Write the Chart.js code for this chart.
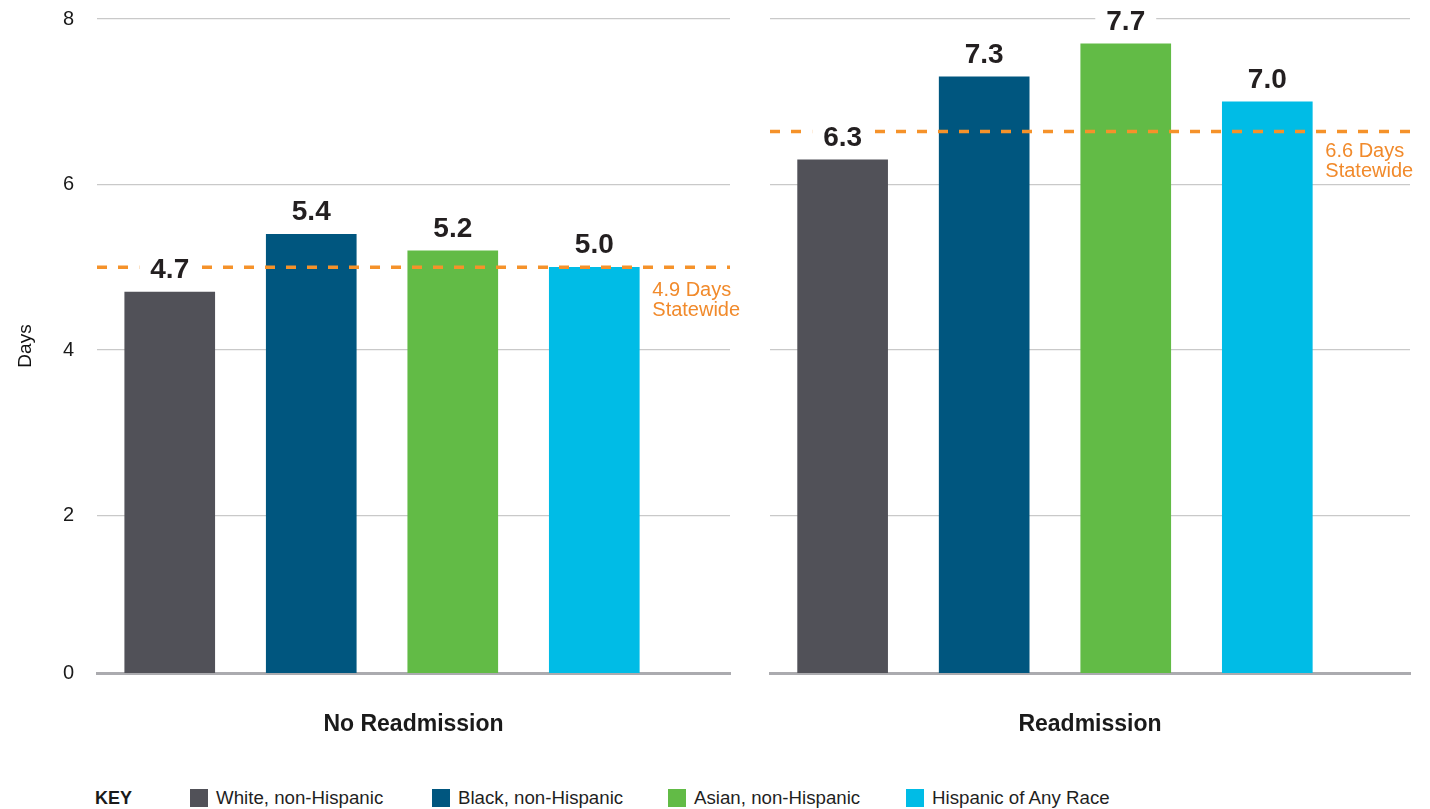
<!DOCTYPE html>
<html>
<head>
<meta charset="utf-8">
<script src="https://cdn.jsdelivr.net/npm/chart.js@4"></script>
<style>
  html, body { margin:0; padding:0; background:#fff; }
  body { width:1430px; height:809px; position:relative; overflow:hidden; font-family:'Liberation Sans', Arial, sans-serif; }
  #wrapA { position:absolute; left:0; top:0; width:750px; height:760px; }
  #wrapB { position:absolute; left:750px; top:0; width:680px; height:760px; }
  #legend { position:absolute; left:0; top:786px; width:1430px; height:24px; }
  .key { position:absolute; left:95px; top:2px; font-weight:bold; font-size:18px; color:#1a1a1a; line-height:20px; }
  .item { position:absolute; top:0; height:22px; }
  .box { position:absolute; left:0; top:3px; width:18px; height:18px; }
  .lab { position:absolute; left:26px; top:2px; white-space:nowrap; font-size:18.7px; line-height:20px; color:#1f1f1f; }
</style>
</head>
<body>
<div id="wrapA"><canvas id="chartA"></canvas></div>
<div id="wrapB"><canvas id="chartB"></canvas></div>
<div id="legend"></div>
<script>
// ---- data ----
const races = ['White, non-Hispanic', 'Black, non-Hispanic', 'Asian, non-Hispanic', 'Hispanic of Any Race'];
const raceColors = ['#515158', '#00567F', '#62BB46', '#00BCE6'];
const groups = ['No Readmission', 'Readmission'];
const noReadmission = [4.7, 5.4, 5.2, 5.0];
const readmission = [6.3, 7.3, 7.7, 7.0];
const statewideDays = [4.9, 6.6];      // label values
const statewideLevel = [5.0, 6.64];    // level of the dashed line as drawn
const yTicks = [0, 2, 4, 6, 8];
const yMin = 0.1, yMax = 8;

Chart.defaults.font.family = "'Liberation Sans', Arial, sans-serif";
Chart.defaults.color = '#1a1a1a';

const overlay = {
  id: 'overlay',
  afterDatasetsDraw(chart, args, opts) {
    const ctx = chart.ctx;
    const area = chart.chartArea;
    const y = chart.scales.y;
    const meta = chart.getDatasetMeta(0);
    ctx.save();
    // statewide dashed line
    const ly = y.getPixelForValue(opts.level);
    ctx.strokeStyle = '#F5922A';
    ctx.lineWidth = 3.5;
    ctx.setLineDash([10, 11]);
    ctx.beginPath();
    ctx.moveTo(area.left, ly);
    ctx.lineTo(area.right, ly);
    ctx.stroke();
    ctx.setLineDash([]);
    // value labels with white knock-out
    ctx.font = "bold 28px 'Liberation Sans', Arial, sans-serif";
    ctx.textAlign = 'center';
    ctx.textBaseline = 'alphabetic';
    meta.data.forEach((bar, i) => {
      const txt = chart.data.datasets[0].data[i].y.toFixed(1);
      const w = ctx.measureText(txt).width;
      const base = bar.y - 14;
      ctx.fillStyle = '#ffffff';
      ctx.fillRect(bar.x - w / 2 - 11, base - 27, w + 22, 34);
      ctx.fillStyle = '#231f20';
      ctx.fillText(txt, bar.x, base);
    });
    // statewide text
    const last = meta.data[meta.data.length - 1];
    const tx = last.x + last.width / 2 + 13;
    ctx.fillStyle = '#F18A2B';
    ctx.font = "20px 'Liberation Sans', Arial, sans-serif";
    ctx.textAlign = 'left';
    ctx.textBaseline = 'middle';
    ctx.fillText(opts.days.toFixed(1) + ' Days', tx, ly + opts.dy);
    ctx.fillText('Statewide', tx, ly + opts.dy + 20);
    ctx.restore();
  }
};

function makeChart(id, values, title, level, days, dy, showY, xMin, xMax, padLeft) {
  return new Chart(document.getElementById(id), {
    type: 'bar',
    data: {
      datasets: [{
        data: values.map((v, i) => ({ x: i, y: v })),
        backgroundColor: raceColors,
        borderWidth: 0,
        barThickness: 90
      }]
    },
    options: {
      responsive: true,
      maintainAspectRatio: false,
      animation: false,
      layout: { padding: { top: 19, right: 20, bottom: 0, left: padLeft } },
      plugins: {
        legend: { display: false },
        tooltip: { enabled: false },
        overlay: { level: level, days: days, dy: dy }
      },
      scales: {
        x: {
          type: 'linear',
          min: xMin, max: xMax,
          offset: false,
          z: 1,
          grid: { display: false },
          border: { display: true, color: '#ababaf', width: 3 },
          ticks: { display: false },
          title: { display: true, text: title, font: { size: 23, weight: 'bold' }, color: '#1a1a1a', padding: { top: 0, bottom: 22 } },
          afterFit(s) { s.height = 87; s.paddingLeft = 0; s.paddingRight = 0; }
        },
        y: {
          min: yMin, max: yMax,
          grid: { color: '#c9c9c9', lineWidth: 1.3, drawTicks: false },
          border: { display: false },
          afterBuildTicks(s) { s.ticks = yTicks.map(v => ({ value: Math.max(v, yMin) })); },
          ticks: {
            display: showY,
            padding: 23,
            font: { size: 20 },
            color: '#1a1a1a',
            callback: (v, i) => String(yTicks[i])
          },
          title: { display: showY, text: 'Days', font: { size: 19 }, color: '#111', padding: { top: 14 } },
          afterFit(s) { s.width = showY ? 97 : 0; s.paddingTop = 0; s.paddingBottom = 0; }
        }
      }
    },
    plugins: [overlay]
  });
}

makeChart('chartA', noReadmission, groups[0], statewideLevel[0], statewideDays[0], 23, true, -0.514, 3.959, 0);
makeChart('chartB', readmission, groups[1], statewideLevel[1], statewideDays[1], 20, false, -0.513, 4.008, 20);

// legend
const lg = document.getElementById('legend');
const key = document.createElement('div');
key.className = 'key'; key.textContent = 'KEY';
lg.appendChild(key);
const lefts = [190, 432, 668, 906];
races.forEach((r, i) => {
  const it = document.createElement('div');
  it.className = 'item';
  it.style.left = lefts[i] + 'px';
  const b = document.createElement('div');
  b.className = 'box'; b.style.background = raceColors[i];
  const t = document.createElement('div');
  t.className = 'lab'; t.textContent = r;
  it.appendChild(b); it.appendChild(t);
  lg.appendChild(it);
});
</script>
</body>
</html>
